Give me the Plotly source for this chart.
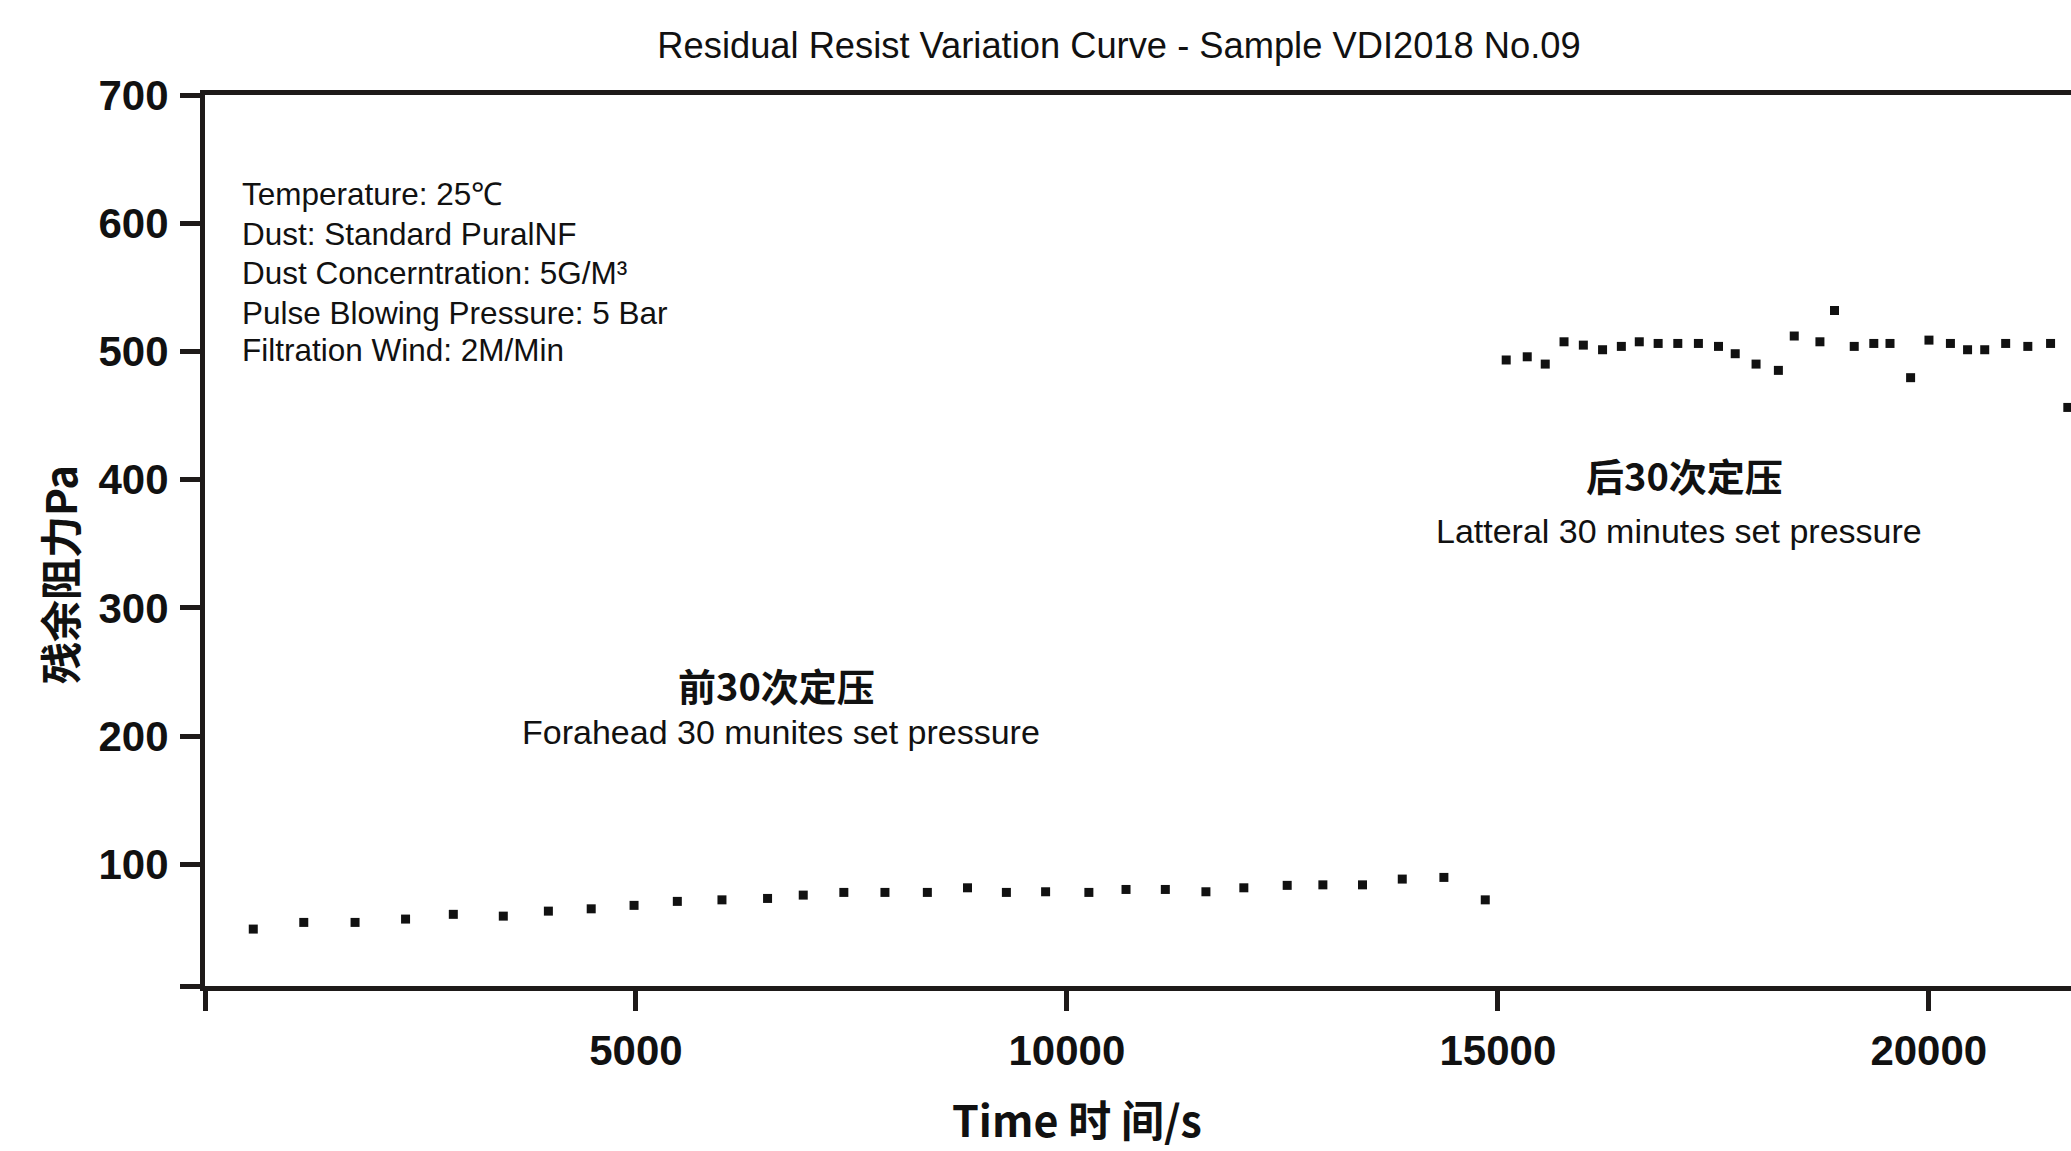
import plotly.graph_objects as go

# ---- data ----
front_time = [560, 1146, 1741, 2327, 2881, 3461, 3984, 4481, 4978, 5480,
              5998, 6527, 6941, 7412, 7889, 8381, 8847, 9298, 9753, 10255,
              10686, 11142, 11613, 12053, 12556, 12970, 13430, 13891, 14374, 14854]
front_resist = [49.4, 54.6, 54.6, 57.2, 60.9, 59.5, 63.4, 65.2, 67.9, 71.0,
                72.2, 73.3, 75.9, 78.0, 78.0, 78.0, 81.6, 78.0, 78.5, 78.0,
                80.3, 80.3, 78.5, 81.6, 83.5, 83.9, 83.9, 88.4, 89.7, 72.2]

back_time = [15097, 15341, 15550, 15768, 15992, 16215, 16433, 16641, 16860, 17088,
             17327, 17560, 17754, 17996, 18255, 18439, 18737, 18906, 19135, 19362,
             19550, 19789, 20002, 20251, 20450, 20649, 20892, 21149, 21413, 21613]
back_resist = [493.3, 495.8, 490.1, 507.5, 504.9, 501.3, 503.9, 507.5, 506.2, 506.2,
               506.2, 503.9, 498.2, 490.1, 485.2, 512.0, 507.5, 531.9, 503.9, 506.2,
               506.2, 479.5, 508.8, 506.2, 501.3, 501.3, 506.2, 503.9, 506.2, 456.3]

x_tickvals = [0, 5000, 10000, 15000, 20000]
x_ticktext = ["", "5000", "10000", "15000", "20000"]
y_tickvals = [5, 100, 200, 300, 400, 500, 600, 700]
y_ticktext = ["", "100", "200", "300", "400", "500", "600", "700"]

conditions = [
    "Temperature: 25℃",
    "Dust: Standard PuralNF",
    "Dust Concerntration: 5G/M³",
    "Pulse Blowing Pressure: 5 Bar",
    "Filtration Wind: 2M/Min",
]

title_text = "Residual Resist Variation Curve - Sample VDI2018 No.09"
x_title = "Time 时 间/s"
y_title = "残余阻力Pa"

LINE = "#1e1a19"
TXT = "#111111"
LAT = "Arial, Liberation Sans, sans-serif"
CJK = "Noto Sans CJK SC, Arial, sans-serif"

fig = go.Figure()
marker = dict(symbol="square", size=9, color="#111111")
fig.add_trace(go.Scatter(x=front_time, y=front_resist, mode="markers", marker=marker,
                         showlegend=False))
fig.add_trace(go.Scatter(x=back_time, y=back_resist, mode="markers", marker=marker,
                         showlegend=False))

W, H = 2071, 1151
L, R, T, B = 205, 0, 95, 165

fig.update_layout(
    width=W, height=H,
    margin=dict(l=L, r=R, t=T, b=B, pad=0),
    paper_bgcolor="white", plot_bgcolor="white",
    title=dict(text=title_text, x=1119 / W, xref="container", xanchor="center",
               y=1 - 45 / H, yref="container", yanchor="middle",
               font=dict(family=LAT, size=36.3, color=TXT)),
    xaxis=dict(range=[0, 21650], tickvals=x_tickvals, ticktext=x_ticktext,
               showgrid=False, zeroline=False, showline=True, linewidth=5,
               linecolor=LINE, mirror=True, ticks="outside", ticklen=20,
               tickwidth=5, tickcolor=LINE, ticklabelstandoff=4,
               tickfont=dict(family=LAT, size=42, color=TXT, weight="bold")),
    yaxis=dict(range=[5, 700], tickvals=y_tickvals, ticktext=y_ticktext,
               showgrid=False, zeroline=False, showline=True, linewidth=5,
               linecolor=LINE, ticks="outside", ticklen=20, tickwidth=5,
               tickcolor=LINE, ticklabelstandoff=3,
               tickfont=dict(family=LAT, size=42, color=TXT, weight="bold")),
)

ann = []
cond_y = [0.889, 0.844, 0.800, 0.755, 0.714]
for t, yy in zip(conditions, cond_y):
    ann.append(dict(text=t, xref="paper", yref="paper", x=0.019, y=yy,
                    xanchor="left", yanchor="middle", showarrow=False,
                    font=dict(family=LAT, size=31.5, color=TXT)))

ann += [
    dict(text="<b>前30次定压</b>", x=0.3062, y=0.3386,
         font=dict(family=CJK, size=38, color=TXT)),
    dict(text="Forahead 30 munites set pressure", x=0.3089, y=0.2848,
         font=dict(family=LAT, size=34, color=TXT)),
    dict(text="<b>后30次定压</b>", x=0.7928, y=0.574,
         font=dict(family=CJK, size=38, color=TXT)),
    dict(text="Latteral 30 minutes set pressure", x=0.7901, y=0.5112,
         font=dict(family=LAT, size=34, color=TXT)),
    dict(text="<b>" + x_title + "</b>", x=0.4673, y=-0.148,
         font=dict(family=CJK, size=43, color=TXT)),
    dict(text="<b>" + y_title + "</b>", x=-0.0785, y=0.4619, textangle=-90,
         font=dict(family=CJK, size=42, color=TXT)),
]
for a in ann[len(conditions):]:
    a.update(xref="paper", yref="paper", xanchor="center", yanchor="middle",
             showarrow=False)

fig.update_layout(annotations=ann)
fig.write_html("out.html")
